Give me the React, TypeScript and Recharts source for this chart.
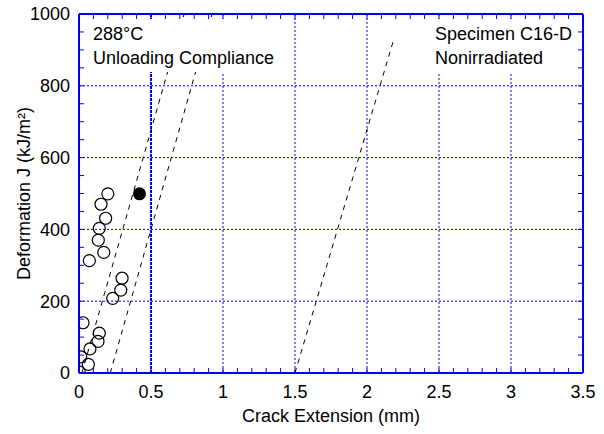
import {
  CartesianGrid,
  ComposedChart,
  Label,
  ReferenceLine,
  Scatter,
  XAxis,
  YAxis,
} from "recharts";

const BLUE = "#0000ee";
const FONT = '"Liberation Sans", Arial, sans-serif';

// 측정점: 균열 진전량 (mm) / J (kJ/m2)
const openDa = [0.2, 0.153, 0.185, 0.141, 0.134, 0.172, 0.072, 0.299, 0.29, 0.234, 0.028, 0.141, 0.132, 0.076, 0.012, 0.065, 0.002];
const openJ = [499, 470, 431, 403, 370, 336, 313, 264, 231, 208, 140, 111, 88, 67, 45, 24, 3];
const filledDa = [0.42];
const filledJ = [499];

// 보조선 (blunting / offset / exclusion)
const lineDa = [
  [0.02, 0.73],
  [0.217, 0.924],
  [1.5, 2.19],
];
const lineJ = [
  [0, 1000],
  [0, 1000],
  [0, 935],
];

const xTicks = [0, 0.5, 1, 1.5, 2, 2.5, 3, 3.5];
const yTicks = [0, 200, 400, 600, 800, 1000];
const xMinor = Array.from({ length: 36 }, (_, i) => i / 10);
const yMinor = Array.from({ length: 21 }, (_, i) => i * 50);

const openData = openDa.map((x, i) => ({ x, y: openJ[i] }));
const filledData = filledDa.map((x, i) => ({ x, y: filledJ[i] }));

const OpenDot = (p: any) => (
  <circle cx={p.cx} cy={p.cy} r={6} fill="none" stroke="#000" strokeWidth={1.2} />
);
const FilledDot = (p: any) => <circle cx={p.cx} cy={p.cy} r={6.5} fill="#000" />;
const Nothing = () => <g />;

const noteStyle: React.CSSProperties = {
  position: "absolute",
  top: 19,
  height: 53,
  boxSizing: "border-box",
  paddingTop: 3,
  background: "#fff",
  fontSize: 18,
  lineHeight: "24px",
  color: "#000",
  whiteSpace: "nowrap",
};

const tickStyle = { fill: "#000", fontSize: 18, fontFamily: FONT };
const ax = { xAxisId: "main", yAxisId: "main" };

// 1px 두께 축 + 음수 tickSize => 안쪽 보조 눈금과 테두리
const minorProps = {
  type: "number" as const,
  allowDataOverflow: true,
  interval: 0 as const,
  tick: Nothing,
  tickSize: -5,
  tickMargin: 0,
  stroke: BLUE,
  tickLine: true,
  axisLine: { stroke: BLUE, strokeWidth: 2 },
};

export default function App() {
  return (
    <div style={{ position: "relative", width: 604, height: 434, fontFamily: FONT }}>
      <style>{`body{margin:0}`}</style>
      <ComposedChart width={604} height={434} margin={{ top: 13, right: 20, bottom: 0, left: 0 }}>
        <XAxis xAxisId="bm" orientation="bottom" height={1} dataKey="x" domain={[0, 3.5]} ticks={xMinor} {...minorProps} />
        <XAxis xAxisId="tm" orientation="top" height={1} dataKey="x" domain={[0, 3.5]} ticks={xMinor} {...minorProps} />
        <YAxis yAxisId="lm" orientation="left" width={1} dataKey="y" domain={[0, 1000]} ticks={yMinor} {...minorProps} />
        <YAxis yAxisId="rm" orientation="right" width={1} dataKey="y" domain={[0, 1000]} ticks={yMinor} {...minorProps} />
        <XAxis
          xAxisId="main"
          dataKey="x"
          type="number"
          domain={[0, 3.5]}
          ticks={xTicks}
          interval={0}
          allowDataOverflow
          tickLine={false}
          axisLine={false}
          tickSize={6}
          tickMargin={5}
          height={60}
          tick={tickStyle}
        >
          <Label
            value="Crack Extension (mm)"
            position="insideBottom"
            offset={12}
            style={{ fill: "#000", fontSize: 18, fontFamily: FONT }}
          />
        </XAxis>
        <YAxis
          yAxisId="main"
          dataKey="y"
          type="number"
          domain={[0, 1000]}
          ticks={yTicks}
          interval={0}
          allowDataOverflow
          tickLine={false}
          axisLine={false}
          tickSize={6}
          tickMargin={2}
          width={78}
          tick={tickStyle}
        >
          <Label
            value="Deformation J (kJ/m²)"
            angle={-90}
            position="insideLeft"
            offset={24}
            style={{ fill: "#000", fontSize: 18, fontFamily: FONT, textAnchor: "middle" }}
          />
        </YAxis>
        <CartesianGrid {...ax} stroke={BLUE} strokeDasharray="2 2" />
        <Scatter data={openData} xAxisId="bm" yAxisId="lm" shape={Nothing} isAnimationActive={false} />
        <Scatter data={openData} xAxisId="tm" yAxisId="rm" shape={Nothing} isAnimationActive={false} />
        <ReferenceLine {...ax} x={0.5} stroke={BLUE} strokeWidth={2} strokeDasharray="3 1" />
        {lineDa.map((xs, i) => (
          <ReferenceLine
            key={i}
            {...ax}
            segment={[
              { x: xs[0], y: lineJ[i][0] },
              { x: xs[1], y: lineJ[i][1] },
            ]}
            stroke="#000"
            strokeWidth={1}
            strokeDasharray="5 5"
          />
        ))}
        <Scatter {...ax} data={openData} shape={OpenDot} isAnimationActive={false} />
        <Scatter {...ax} data={filledData} shape={FilledDot} isAnimationActive={false} />
      </ComposedChart>
      <div style={{ ...noteStyle, left: 88, width: 190, paddingLeft: 5 }}>
        288°C
        <br />
        Unloading Compliance
      </div>
      <div style={{ ...noteStyle, left: 430, width: 147, paddingLeft: 5 }}>
        Specimen C16-D
        <br />
        Nonirradiated
      </div>
    </div>
  );
}
